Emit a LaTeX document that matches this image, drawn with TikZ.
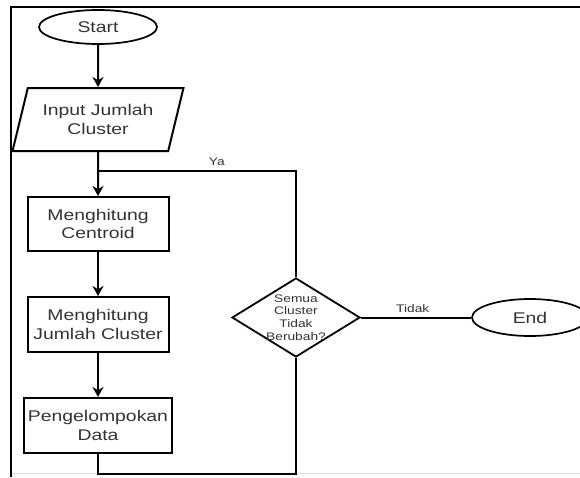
\documentclass[tikz,border=0pt]{standalone}
\usepackage{fontspec}
\setmainfont[FakeStretch=1.25]{Liberation Sans}
\usetikzlibrary{shapes.geometric,arrows.meta}

\begin{document}
\begin{tikzpicture}[x=1pt,y=-1pt,>={Stealth[length=10pt,width=11pt]},
	txt/.style={text=black!80,font=\fontsize{15.5}{18.5}\selectfont,align=center},
	lbl/.style={text=black!80,font=\fontsize{11}{13}\selectfont},
	box/.style={txt,draw,line width=2pt,rectangle,inner sep=0pt,minimum height=55pt},
	oval/.style={txt,draw,line width=1.7pt,ellipse,inner sep=0pt},
	io/.style={txt,draw,line width=2pt,trapezium,trapezium left angle=68,trapezium right angle=112,
		trapezium stretches=true,inner sep=0pt,minimum width=171pt,minimum height=63pt},
	cond/.style={draw,line width=1.8pt,diamond,aspect=1.62,inner sep=-3pt,minimum width=128pt,minimum height=79pt,
		text=black!80,font=\fontsize{11}{12.8}\selectfont,align=center},
	wire/.style={line width=2pt}]

\useasboundingbox (0,0) rectangle (580,477);

% frame
\draw [line width=2.5pt] (580,7) -- (11,7) -- (11,477);
\draw [black!15,line width=0.8pt] (12,473.5) -- (580,473.5);

\node [oval,minimum width=118pt,minimum height=34pt] at (98,27) (s0) {Start};
\node [io] at (98,119.5) (s1) {Input Jumlah\\Cluster};
\node [box,minimum width=141pt,minimum height=54pt] at (98,224) (s2) {Menghitung\\Centroid};
\node [box,minimum width=141pt] at (98,324.5) (s3) {Menghitung\\Jumlah Cluster};
\node [box,minimum width=148pt] at (98,425.5) (s4) {Pengelompokan\\Data};

\node [cond] at (296,317.5) (d) {Semua\\Cluster\\Tidak\\Berubah?};
\node [oval,minimum width=116pt,minimum height=37pt] at (530,317.5) (e) {End};

\coordinate (ya) at (98,171);
\coordinate (low) at (296,474);

\foreach \a/\b in {s0/s1,s1/s2,s2/s3,s3/s4} {
	\draw [wire,->] (\a) -- (\b);
}

%%%%%%%%%%%%%%%%%%%%%%%%%%%%%%%%%%%%%%%%%%%%%%%%%%%%%%%%%%%%%%%%

\draw [wire] (d.north) |- node [lbl,above=1pt,pos=.70] {Ya} (ya);
\draw [wire] (d.east) -- node [lbl,above=1pt,pos=.47] {Tidak} (e.west);
\draw [wire] (s4.south) |- (low) -- (d.south);

\end{tikzpicture}
\end{document}
